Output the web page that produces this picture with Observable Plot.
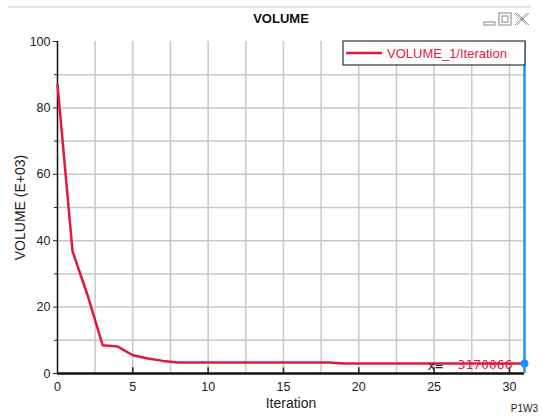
<!DOCTYPE html>
<html>
<head>
<meta charset="utf-8">
<script src="https://cdn.jsdelivr.net/npm/d3@7"></script>
<script src="https://cdn.jsdelivr.net/npm/@observablehq/plot@0.6"></script>
<style>
  html, body { margin: 0; padding: 0; background: #fff; }
  #chart { position: relative; width: 542px; height: 416px; }
  svg { font-family: "Liberation Sans", Arial, sans-serif; }
</style>
</head>
<body>
<div id="chart"></div>
<script>
const iterations = [0,1,2,3,4,5,6,7,8,9,10,11,12,13,14,15,16,17,18,19,20,21,22,23,24,25,26,27,28,29,30,31];
const volume = [87, 36.8, 23.5, 8.5, 8.1, 5.5, 4.5, 3.8, 3.3, 3.3, 3.3, 3.3, 3.3, 3.3, 3.3, 3.3, 3.3, 3.3, 3.3, 3.0, 3.0, 3.0, 3.0, 3.0, 3.0, 3.0, 3.0, 3.0, 3.0, 3.0, 3.0, 3.0];
const xTicks = [0, 5, 10, 15, 20, 25, 30];
const xGrid = [2.5, 5, 7.5, 10, 12.5, 15, 17.5, 20, 22.5, 25, 27.5, 30];
const yTicks = [0, 20, 40, 60, 80, 100];
const yGrid = [10, 20, 30, 40, 50, 60, 70, 80, 90];
const yMinor = [10, 30, 50, 70, 90];
const title = "VOLUME";
const seriesName = "VOLUME_1/Iteration";
const xLabel = "Iteration";
const yLabel = "VOLUME (E+03)";
const footer = "P1W3";
const markerPrefix = "x=";
const markerValue = "3170066";

const data = iterations.map((it, i) => ({it, v: volume[i]}));
const last = data[data.length - 1];
const red = "#e0193f";
const blue = "#1e90ff";

const chart = Plot.plot({
  width: 542,
  height: 416,
  marginLeft: 57,
  marginRight: 18,
  marginTop: 41,
  marginBottom: 43,
  style: {fontFamily: "Liberation Sans, Arial, sans-serif", fontSize: "12px", color: "#222", background: "#fff"},
  x: {type: "linear", domain: [0, 31]},
  y: {type: "linear", domain: [0, 100]},
  marks: [
    Plot.gridX(xGrid, {stroke: "#c8c8c8", strokeOpacity: 1, strokeWidth: 1.5}),
    Plot.gridY(yGrid, {stroke: "#c8c8c8", strokeOpacity: 1, strokeWidth: 1.5}),
    Plot.axisX(xTicks, {tickSize: 0, tickPadding: 9, fontSize: 12.5, fill: "#222", label: xLabel, labelAnchor: "center", labelArrow: "none", labelOffset: 34}),
    Plot.axisY(yTicks, {tickSize: 4, tickPadding: 3, fontSize: 12.5, fill: "#222", label: yLabel, labelAnchor: "center", labelArrow: "none", labelOffset: 42}),
    Plot.axisY(yMinor, {tickSize: 3, text: null, label: null}),
    Plot.ruleX(xTicks.filter(d => d > 0), {x: d => d, y1: 0, y2: 1.7, stroke: "#222", strokeWidth: 1.5}),
    Plot.ruleY([0], {stroke: "#111", strokeWidth: 2.5}),
    Plot.ruleX([0], {stroke: "#111", strokeWidth: 1.5}),
    Plot.ruleX([last.it], {stroke: blue, strokeWidth: 2.5}),
    Plot.line(data, {x: "it", y: "v", stroke: red, strokeWidth: 2.5}),
    Plot.dot([last], {x: "it", y: "v", r: 4, fill: blue, stroke: "none"}),
    Plot.text([last], {x: "it", y: "v", text: () => markerValue, textAnchor: "end", dx: -12, dy: 1, fill: red, fontSize: 13, fontFamily: "DejaVu Sans Mono, monospace", letterSpacing: "1px"}),
    Plot.text([last], {x: "it", y: "v", text: () => markerPrefix, textAnchor: "start", dx: -97, dy: 2, fill: "#222", fontSize: 13, fontFamily: "DejaVu Sans Mono, monospace"})
  ]
});

document.getElementById("chart").appendChild(chart);

const svg = d3.select(chart);
svg.selectAll("g[aria-label='x-axis label'] text, g[aria-label='y-axis label'] text").attr("font-size", 14);
// top window border line
svg.append("line").attr("x1", 8).attr("x2", 531).attr("y1", 7).attr("y2", 7).attr("stroke", "#ddd").attr("stroke-width", 1.5);
// title
svg.append("text").attr("x", 281).attr("y", 23).attr("text-anchor", "middle")
  .attr("font-weight", "bold").attr("font-size", 13).attr("fill", "#111").text(title);
// window icons
const ic = svg.append("g").attr("stroke", "#999").attr("fill", "none").attr("stroke-width", 1.2);
ic.append("rect").attr("x", 484).attr("y", 22).attr("width", 11).attr("height", 3);
ic.append("rect").attr("x", 499).attr("y", 13).attr("width", 12).attr("height", 12);
ic.append("rect").attr("x", 502).attr("y", 16).attr("width", 6).attr("height", 6);
ic.append("path").attr("d", "M515,13 L527,25 M527,13 L515,25 M517,13 L529,25 M529,13 L517,25").attr("stroke-width", 1);
// legend
const lg = svg.append("g");
lg.append("rect").attr("x", 343).attr("y", 41).attr("width", 182).attr("height", 24)
  .attr("fill", "#fff").attr("stroke", "#333").attr("stroke-width", 1.2);
lg.append("line").attr("x1", 346).attr("x2", 382).attr("y1", 53).attr("y2", 53).attr("stroke", red).attr("stroke-width", 2.5);
lg.append("text").attr("x", 387).attr("y", 58).attr("text-anchor", "start").attr("font-size", 13).attr("fill", red).text(seriesName);
// footer
svg.append("text").attr("x", 538).attr("y", 412).attr("text-anchor", "end").attr("font-size", 10).attr("fill", "#222").text(footer);
</script>
</body>
</html>
